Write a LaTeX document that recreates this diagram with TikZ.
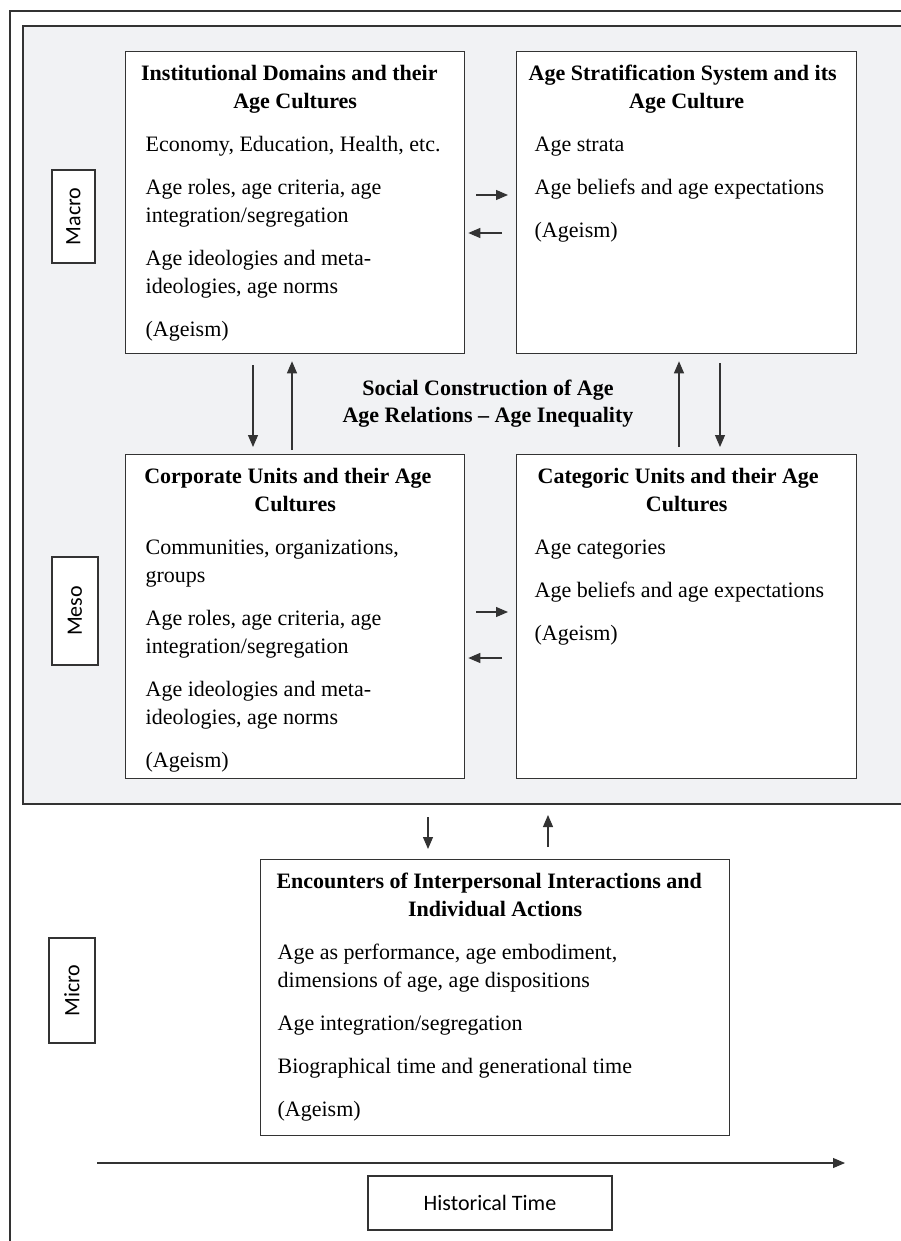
\documentclass[tikz,border=0pt]{standalone}
\usepackage{fontspec}
\setmainfont{Liberation Serif}
\newfontfamily\labelfont{Carlito}
\usetikzlibrary{arrows.meta}
\definecolor{panelgray}{HTML}{F1F2F4}
\definecolor{linegray}{HTML}{333333}
\newcommand{\bx}[5]{\parbox[c][#2][t]{#1}{%
 \fontsize{22}{28}\selectfont\setlength{\parskip}{15pt}\setlength{\parindent}{0pt}%
 {\leftskip=4pt plus 1fil\rightskip=4pt plus 1fil\parfillskip=0pt\bfseries\rule{0pt}{29pt}#4\par}%
 \leftskip=#3\rightskip=#3 plus 1fil\parfillskip=0pt plus 1fil
 #5\par}}
\tikzset{
 box/.style={draw=linegray, line width=1.3pt, fill=white, inner sep=0pt, anchor=north west},
 lvl/.style={draw=linegray, line width=1.2pt, fill=white, inner sep=0pt, font=\labelfont\fontsize{22}{26}\selectfont, rotate=90},
 arr/.style={draw=linegray, line width=1.1pt, -{Triangle[length=12pt,width=10pt]}}
}
\begin{document}
\begin{tikzpicture}[x=1pt,y=-1pt]
\useasboundingbox (0,0) rectangle (901,1241);
\clip (0,0) rectangle (901,1241);
% outer frame
\draw[linegray, line width=1.5pt] (10,1250) -- (10,11) -- (910,11);
% gray panel
\fill[panelgray] (23,26) rectangle (910,804);
\draw[linegray, line width=1.3pt] (910,26) -- (23,26) -- (23,804) -- (910,804);
% level labels
\node[lvl, minimum width=93pt, minimum height=43pt] (macro) at (73.5,216.5) {Macro};
\node[lvl, minimum width=108pt, minimum height=46pt] (meso) at (75,611) {Meso};
\node[lvl, minimum width=105pt, minimum height=46pt] (micro) at (72,990.5) {Micro};
% boxes
\node[box] (inst) at (125,51) {\bx{339pt}{302pt}{20pt}{Institutional Domains and their\\Age Cultures}{Economy, Education, Health, etc.\par Age roles, age criteria, age\\integration/segregation\par Age ideologies and meta-\\ideologies, age norms\par (Ageism)}};
\node[box] (strat) at (516,51) {\bx{340pt}{302pt}{18pt}{Age Stratification System and its\\Age Culture}{Age strata\par Age beliefs and age expectations\par (Ageism)}};
\node[box] (corp) at (125,454) {\bx{339pt}{324pt}{20pt}{Corporate Units and their Age\\Cultures}{Communities, organizations,\\groups\par Age roles, age criteria, age\\integration/segregation\par Age ideologies and meta-\\ideologies, age norms\par (Ageism)}};
\node[box] (categ) at (516,454) {\bx{340pt}{324pt}{18pt}{Categoric Units and their Age\\Cultures}{Age categories\par Age beliefs and age expectations\par (Ageism)}};
\node[box] (enc) at (260,859) {\bx{469pt}{276pt}{17pt}{Encounters of Interpersonal Interactions and\\Individual Actions}{Age as performance, age embodiment,\\dimensions of age, age dispositions\par Age integration/segregation\par Biographical time and generational time\par (Ageism)}};
% center text
\node[font=\bfseries\fontsize{22}{27}\selectfont, align=center, inner sep=0pt] (soc) at (488,404) {Social Construction of Age\\Age Relations – Age Inequality};
% macro horizontal arrows
\draw[arr] ([xshift=11pt,yshift=-144pt]inst.north east) -- ([xshift=-8pt,yshift=-144pt]strat.north west);
\draw[arr] ([xshift=-14pt,yshift=-182pt]strat.north west) -- ([xshift=3pt,yshift=-182pt]inst.north east);
% meso horizontal arrows
\draw[arr] ([xshift=11pt,yshift=-158pt]corp.north east) -- ([xshift=-8pt,yshift=-158pt]categ.north west);
\draw[arr] ([xshift=-14pt,yshift=-204pt]categ.north west) -- ([xshift=3pt,yshift=-204pt]corp.north east);
% left vertical arrows
\draw[arr] ([xshift=128pt,yshift=-11pt]inst.south west) -- ([xshift=128pt,yshift=7pt]corp.north west);
\draw[arr] ([xshift=167pt,yshift=4pt]corp.north west) -- ([xshift=167pt,yshift=-7pt]inst.south west);
% right vertical arrows
\draw[arr] ([xshift=163pt,yshift=7pt]categ.north west) -- ([xshift=163pt,yshift=-7pt]strat.south west);
\draw[arr] ([xshift=204pt,yshift=-9pt]strat.south west) -- ([xshift=204pt,yshift=7pt]categ.north west);
% meso-micro arrows
\draw[arr] ([xshift=168pt,yshift=42pt]enc.north west) -- ([xshift=168pt,yshift=10pt]enc.north west);
\draw[arr] ([xshift=288pt,yshift=12pt]enc.north west) -- ([xshift=288pt,yshift=44pt]enc.north west);
% historical time
\coordinate (hs) at (97,1163);
\coordinate (he) at (845,1163);
\draw[arr] (hs) -- (he);
\node[draw=linegray, line width=1.2pt, minimum width=244pt, minimum height=54pt, inner sep=0pt, font=\labelfont\fontsize{22}{26}\selectfont] (hist) at (490,1203) {Historical Time};
\end{tikzpicture}
\end{document}
